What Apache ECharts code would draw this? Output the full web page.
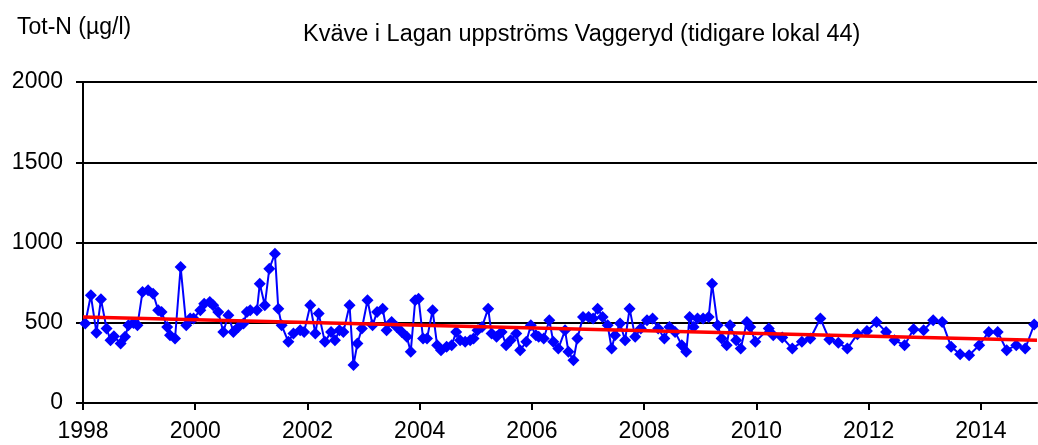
<!DOCTYPE html>
<html>
<head>
<meta charset="utf-8">
<script src="https://cdn.jsdelivr.net/npm/echarts@6/dist/echarts.min.js"></script>
<style>
  html, body { margin: 0; padding: 0; background: #fff; }
  #chart { width: 1038px; height: 445px; }
</style>
</head>
<body>
<div id="chart"></div>
<script>
// sample dates (decimal years) and Tot-N values (µg/l)
const sampleDates = [
  1998.04, 1998.14, 1998.24, 1998.32, 1998.42, 1998.49, 1998.55, 1998.67, 1998.75, 1998.81, 1998.90, 1998.97,
  1999.06, 1999.16, 1999.25, 1999.34, 1999.40, 1999.50, 1999.55, 1999.64, 1999.74, 1999.84, 1999.91, 1999.97,
  2000.09, 2000.16, 2000.26, 2000.32, 2000.41, 2000.50, 2000.59, 2000.68, 2000.77, 2000.86, 2000.92, 2000.98,
  2001.10, 2001.15, 2001.24, 2001.32, 2001.42, 2001.48, 2001.54, 2001.66, 2001.75, 2001.87, 2001.94,
  2002.05, 2002.14, 2002.20, 2002.31, 2002.42, 2002.49, 2002.57, 2002.64, 2002.75, 2002.82, 2002.89, 2002.97,
  2003.07, 2003.16, 2003.24, 2003.34, 2003.41, 2003.50, 2003.59, 2003.68, 2003.77, 2003.84, 2003.92, 2003.98,
  2004.06, 2004.13, 2004.23, 2004.31, 2004.38, 2004.48, 2004.57, 2004.65, 2004.72, 2004.81, 2004.90, 2004.96,
  2005.03, 2005.11, 2005.22, 2005.28, 2005.37, 2005.46, 2005.54, 2005.62, 2005.72, 2005.79, 2005.90, 2005.98,
  2006.07, 2006.12, 2006.21, 2006.31, 2006.38, 2006.47, 2006.59, 2006.65, 2006.74, 2006.81, 2006.91,
  2007.01, 2007.09, 2007.17, 2007.26, 2007.35, 2007.42, 2007.48, 2007.57, 2007.66, 2007.74, 2007.84, 2007.94,
  2008.05, 2008.15, 2008.25, 2008.36, 2008.45, 2008.55, 2008.67, 2008.75, 2008.81, 2008.88, 2008.95,
  2009.05, 2009.15, 2009.21, 2009.31, 2009.38, 2009.47, 2009.53, 2009.64, 2009.72, 2009.83, 2009.89, 2009.98,
  2010.22, 2010.30, 2010.46, 2010.64, 2010.81, 2010.96,
  2011.14, 2011.30, 2011.46, 2011.62, 2011.80, 2011.97,
  2012.14, 2012.31, 2012.46, 2012.64, 2012.80, 2012.98,
  2013.15, 2013.31, 2013.47, 2013.63, 2013.79, 2013.97,
  2014.14, 2014.30, 2014.46, 2014.63, 2014.79, 2014.95
];
const totN = [
  495, 671, 437, 646, 464, 391, 416, 371, 412, 484, 499, 484,
  691, 702, 681, 578, 567, 474, 422, 402, 847, 484, 526, 526,
  578, 619, 629, 609, 567, 443, 547, 443, 474, 495, 567, 578,
  578, 743, 609, 837, 930, 588, 484, 381, 433, 453, 443,
  609, 433, 557, 381, 443, 391, 453, 443, 609, 236, 371, 464,
  640, 484, 567, 588, 453, 505, 474, 443, 412, 319, 640, 650,
  402, 402, 578, 360, 329, 350, 360, 443, 391, 381, 391, 402,
  453, 474, 588, 433, 412, 443, 360, 391, 433, 329, 381, 484,
  422, 412, 402, 516, 381, 339, 453, 319, 267, 402, 536,
  536, 526, 588, 536, 484, 339, 422, 495, 391, 588, 412, 464,
  516, 526, 464, 402, 474, 443, 360, 319, 536, 474, 526,
  526, 536, 743, 484, 402, 360, 484, 391, 339, 505, 474, 381,
  464, 422, 408, 339, 381, 402,
  526, 395, 375, 339, 429, 449,
  505, 443, 391, 360, 460, 453,
  516, 505, 350, 304, 298, 360,
  443, 443, 329, 360, 339, 489
];
// linear trend end points
const trendDates = [1998, 2015];
const trendValues = [536, 391];
const xTicks = [1998, 2000, 2002, 2004, 2006, 2008, 2010, 2012, 2014];
const yTicks = [0, 500, 1000, 1500, 2000];

const font = "'Liberation Sans', Arial, sans-serif";
const chart = echarts.init(document.getElementById('chart'));

chart.setOption({
  animation: false,
  title: [
    {
      text: 'Tot-N (µg/l)',
      left: 12, top: 11,
      textStyle: { fontFamily: font, fontSize: 23, fontWeight: 'normal', color: '#000' }
    },
    {
      text: 'Kväve i Lagan uppströms Vaggeryd (tidigare lokal 44)',
      left: 298, top: 18,
      textStyle: { fontFamily: font, fontSize: 23.5, fontWeight: 'normal', color: '#000' }
    }
  ],
  grid: { left: 83, right: 1, top: 82, bottom: 42 },
  xAxis: {
    type: 'value',
    min: 1998, max: 2015, interval: 2,
    axisLine: { lineStyle: { color: '#000', width: 2 } },
    axisTick: { length: 7, lineStyle: { color: '#000', width: 2 }, customValues: xTicks },
    axisLabel: {
      fontFamily: font, fontSize: 23, color: '#000', margin: 17, customValues: xTicks,
      formatter: v => String(v)
    },
    splitLine: { show: false }
  },
  yAxis: {
    type: 'value',
    min: 0, max: 2000, interval: 500,
    axisLine: { show: true, lineStyle: { color: '#000', width: 2 } },
    axisTick: { show: true, length: 7, lineStyle: { color: '#000', width: 2 }, customValues: yTicks },
    axisLabel: {
      fontFamily: font, fontSize: 23, color: '#000', margin: 20, customValues: yTicks,
      formatter: v => String(v)
    },
    splitLine: { lineStyle: { color: '#000', width: 2 } }
  },
  series: [
    {
      type: 'line',
      data: sampleDates.map((d, i) => [d, totN[i]]),
      symbol: 'diamond',
      symbolSize: 12,
      itemStyle: { color: '#0000ff' },
      lineStyle: { color: '#0000ff', width: 2 },
      z: 2
    },
    {
      type: 'line',
      data: trendDates.map((d, i) => [d, trendValues[i]]),
      symbol: 'none',
      lineStyle: { color: '#ff0000', width: 3.5 },
      z: 3
    }
  ]
});
</script>
</body>
</html>
